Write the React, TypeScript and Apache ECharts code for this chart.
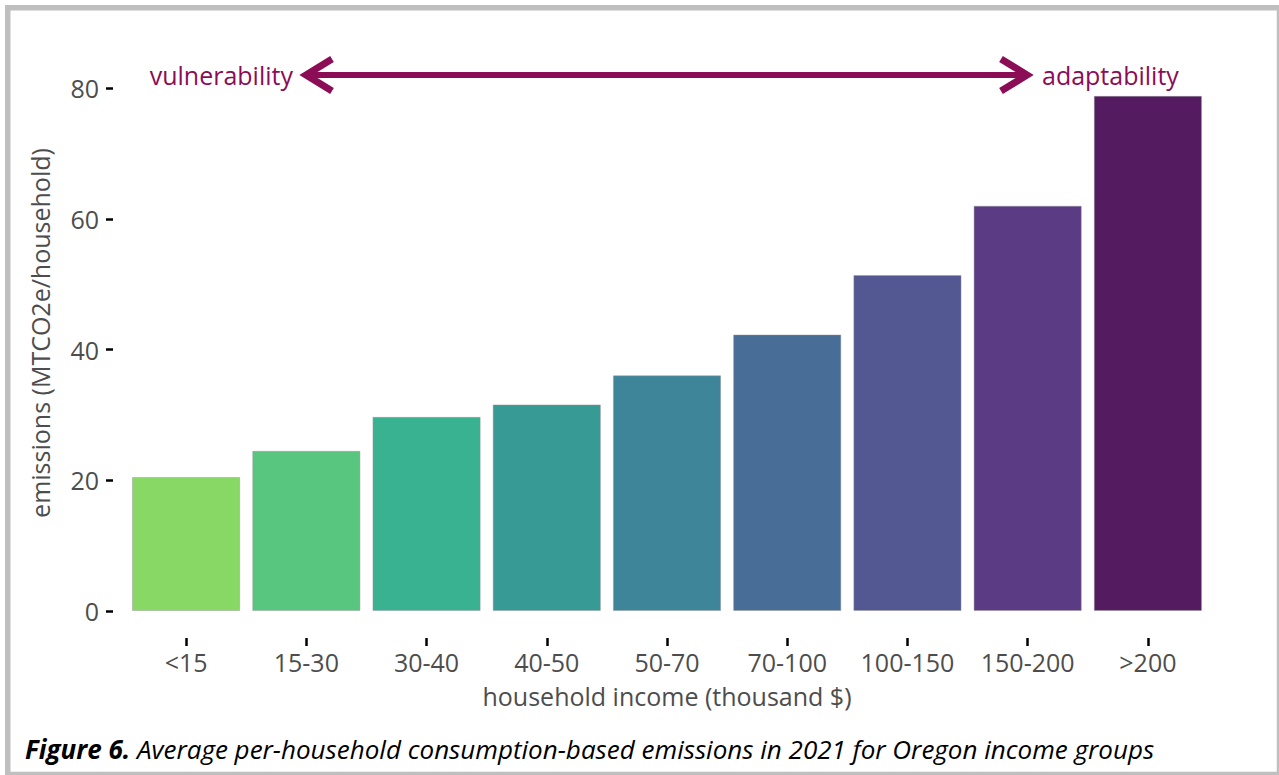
import React, { useEffect, useRef } from "react";
import * as echarts from "echarts";

const categories = ["<15", "15-30", "30-40", "40-50", "50-70", "70-100", "100-150", "150-200", ">200"];
const emissions = [20.5, 24.5, 29.7, 31.6, 36.05, 42.3, 51.4, 62.0, 78.8];
const barColors = ["#88d865", "#58c67f", "#39b291", "#389a94", "#3e8599", "#486e97", "#535892", "#5c3b85", "#551b61"];
const yTicks = [0, 20, 40, 60, 80];

const FONT = "'Open Sans', 'Noto Sans', sans-serif";
const ACCENT = "#8b0d56";

export default function App() {
  const ref = useRef<HTMLDivElement>(null);
  useEffect(() => {
    if (!ref.current) return;
    const chart = echarts.init(ref.current, null, { renderer: "svg" });
    chart.setOption({
      animation: false,
      backgroundColor: "#ffffff",
      textStyle: { fontFamily: FONT },
      grid: { left: 126, right: 71, top: 88, bottom: 164, containLabel: false },
      xAxis: {
        type: "category",
        data: categories,
        offset: 27,
        boundaryGap: true,
        axisLine: { show: false, onZero: false },
        axisTick: { show: true, alignWithLabel: true, length: 8, lineStyle: { color: "#000", width: 2.5 } },
        axisLabel: { color: "#4d4d4d", fontSize: 25, margin: 11, fontFamily: FONT, interval: 0, hideOverlap: false },
        splitLine: { show: false },
      },
      yAxis: {
        type: "value",
        min: yTicks[0],
        max: yTicks[yTicks.length - 1],
        interval: 20,
        offset: 13,
        axisLine: { show: false, onZero: false },
        axisTick: { show: true, length: 7, lineStyle: { color: "#000", width: 2.5 } },
        axisLabel: { color: "#4d4d4d", fontSize: 25, margin: 14, fontFamily: FONT },
        splitLine: { show: false },
      },
      series: [
        {
          type: "bar",
          data: emissions.map((v, i) => ({ value: v, itemStyle: { color: barColors[i] } })),
          barCategoryGap: "10%",
          itemStyle: { borderColor: "rgba(150,150,150,0.45)", borderWidth: 1 },
        },
      ],
      graphic: [
        {
          type: "rect",
          shape: { x: 7.75, y: 7.75, width: 1271.75, height: 766.75 },
          style: { fill: "none", stroke: "#bfbfbf", lineWidth: 5.5 },
          silent: true,
        },
        {
          type: "line",
          shape: { x1: 308, y1: 75, x2: 1025, y2: 75 },
          style: { stroke: ACCENT, lineWidth: 6 },
        },
        {
          type: "polyline",
          shape: { points: [[332, 59], [306, 75], [332, 91]] },
          style: { stroke: ACCENT, lineWidth: 7, fill: "none", lineJoin: "miter" },
        },
        {
          type: "polyline",
          shape: { points: [[1001, 59], [1027, 75], [1001, 91]] },
          style: { stroke: ACCENT, lineWidth: 7, fill: "none", lineJoin: "miter" },
        },
        {
          type: "text",
          x: 293,
          y: 75,
          style: { text: "vulnerability", fill: ACCENT, font: `25px ${FONT}`, align: "right", verticalAlign: "middle" },
        },
        {
          type: "text",
          x: 1042,
          y: 75,
          style: { text: "adaptability", fill: ACCENT, font: `25px ${FONT}`, align: "left", verticalAlign: "middle" },
        },
        {
          type: "text",
          x: 667,
          y: 696,
          style: { text: "household income (thousand $)", fill: "#4d4d4d", font: `25px ${FONT}`, align: "center", verticalAlign: "middle" },
        },
        {
          type: "text",
          x: 40,
          y: 333,
          rotation: Math.PI / 2,
          style: { text: "emissions (MTCO2e/household)", fill: "#4d4d4d", font: `25px ${FONT}`, align: "center", verticalAlign: "middle" },
        },
        {
          type: "text",
          x: 25,
          y: 749,
          style: {
            text: "{b|Figure 6.}{i| Average per-household consumption-based emissions in 2021 for Oregon income groups}",
            verticalAlign: "middle",
            align: "left",
            rich: {
              b: { fontFamily: FONT, fontSize: 26, fontWeight: "bold", fontStyle: "italic", fill: "#000" },
              i: { fontFamily: FONT, fontSize: 26, fontStyle: "italic", fill: "#000" },
            },
          },
        },
      ],
    });
    return () => chart.dispose();
  }, []);
  return (
    <div
      ref={ref}
      style={{ position: "fixed", left: 0, top: 0, width: 1279, height: 775, background: "#fff" }}
    />
  );
}
